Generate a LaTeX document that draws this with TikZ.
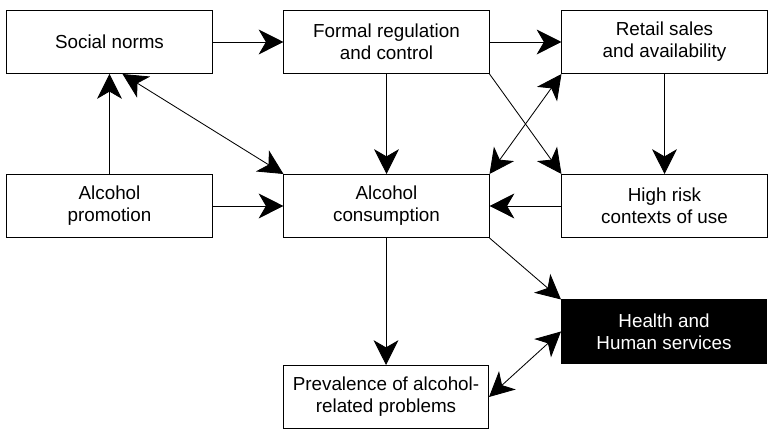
\documentclass[tikz,border=0pt]{standalone}
\usepackage{fontspec}
\setmainfont{Liberation Sans}
\usepackage{tikz}
\usetikzlibrary{arrows.meta}
\tikzset{>={Stealth[length=0.62cm, width=0.62cm, inset=0.18cm]}}
\tikzset{box/.style = {draw, line width=0.7pt, minimum width=5.125cm, minimum height=1.575cm,
                       inner sep=0, align=center, font=\fontsize{13.4}{15.7}\selectfont}}
\tikzset{blackbox/.style = {box, fill=black, text=white}}

\begin{document}
\begin{tikzpicture}[x=0.025cm, y=-0.025cm, line width=0.6pt]
    \useasboundingbox (0, 0) rectangle (770, 431);

    \node [box] (social) at (109.5, 42) {Social norms};
    \node [box] (formal) at (386.5, 42) {Formal regulation\\and control};
    \node [box] (retail) at (664.5, 42) {Retail sales\\and availability};

    \node [box] (promotion) at (109.5, 206) {Alcohol\\promotion};
    \node [box] (consumption) at (386.5, 206) {Alcohol\\consumption};
    \node [box] (highrisk) at (664.5, 206) {High risk\\contexts of use};

    \node [blackbox] (health) at (664, 331.5) {Health and\\Human services};
    \node [box] (prevalence) at (386, 397) {Prevalence of alcohol-\\related problems};

    \draw [->] (social) -- (formal);
    \draw [->] (formal) -- (retail);
    \draw [->] (promotion) -- (social);
    \draw [<->] ([xshift=0.325cm]social.south) -- (consumption.north west);
    \draw [->] (promotion) -- (consumption);
    \draw [->] (formal) -- (consumption);
    \draw [->] (formal.south east) -- (highrisk.north west);
    \draw [<->] (retail.south west) -- (consumption.north east);
    \draw [->] (retail) -- (highrisk);
    \draw [->] (highrisk) -- (consumption);
    \draw [->] (consumption.south east) -- (health.north west);
    \draw [->] (consumption.south -| prevalence.north) -- (prevalence.north);
    \draw [<->] (prevalence.east) -- (health.west);
\end{tikzpicture}
\end{document}
